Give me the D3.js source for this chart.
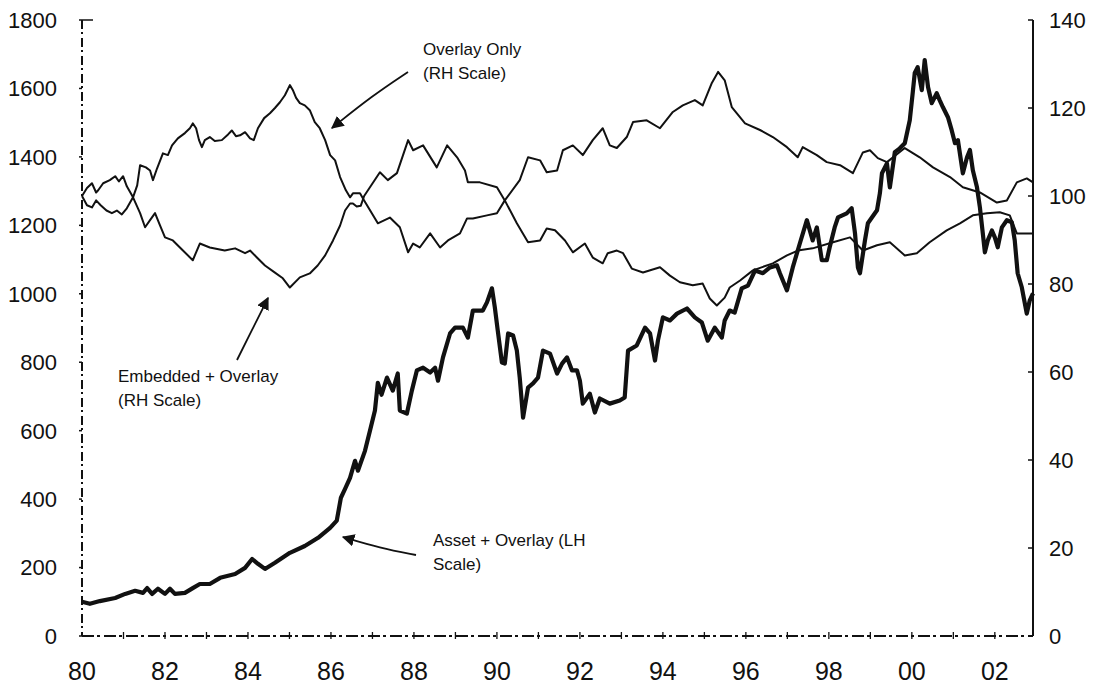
<!DOCTYPE html>
<html>
<head>
<meta charset="utf-8">
<script src="https://cdn.jsdelivr.net/npm/d3@7"></script>
<style>
  body { margin: 0; background: #fff; }
  svg text { font-family: "Liberation Sans", Arial, sans-serif; fill: #111; }
</style>
</head>
<body>
<div id="chart"></div>
<script>
'use strict';

// Overlay Only (RH scale)
var overlayYears = [1980.00,1980.12,1980.24,1980.34,1980.39,1980.51,1980.67,1980.80,1980.89,1980.99,1981.08,1981.23,1981.33,1981.40,1981.54,1981.64,1981.71,1981.81,1981.95,1982.07,1982.17,1982.31,1982.48,1982.60,1982.67,1982.75,1982.82,1982.89,1982.96,1983.08,1983.20,1983.37,1983.52,1983.61,1983.71,1983.81,1983.93,1984.05,1984.14,1984.24,1984.39,1984.53,1984.65,1984.77,1984.89,1985.01,1985.08,1985.16,1985.25,1985.37,1985.49,1985.61,1985.73,1985.86,1985.98,1986.10,1986.22,1986.36,1986.46,1986.53,1986.70,1986.80,1987.13,1987.42,1987.66,1987.86,1987.98,1988.14,1988.39,1988.63,1988.82,1989.11,1989.28,1989.42,1989.76,1990.00,1990.19,1990.55,1990.75,1991.04,1991.20,1991.45,1991.59,1991.83,1992.07,1992.31,1992.55,1992.72,1992.89,1993.13,1993.28,1993.61,1993.93,1994.24,1994.48,1994.77,1994.96,1995.18,1995.33,1995.49,1995.66,1995.98,1996.34,1996.65,1996.99,1997.25,1997.37,1997.71,1997.95,1998.27,1998.58,1998.82,1998.99,1999.18,1999.40,1999.83,2000.19,2000.51,2000.92,2001.23,2001.64,2002.05,2002.29,2002.53,2002.77,2002.92]
var overlayValues = [100.0,101.8,102.9,100.8,101.3,102.9,103.6,104.5,103.3,104.5,102.2,99.7,102.4,107.0,106.5,105.8,103.6,106.3,109.7,109.3,111.5,113.1,114.3,115.4,116.5,115.4,112.7,111.1,112.7,113.4,112.5,112.7,114.0,114.9,113.6,113.8,114.5,113.1,112.7,115.4,117.7,118.8,120.0,121.3,122.9,125.2,124.1,122.3,121.1,120.6,119.5,116.8,115.4,112.7,109.3,108.1,104.3,101.3,99.7,100.6,100.6,99.0,93.8,95.1,92.9,87.2,89.2,88.3,91.5,88.3,89.9,91.5,94.9,94.9,95.6,96.1,99.0,103.6,108.8,108.1,105.4,105.8,110.4,111.5,109.3,112.7,115.4,111.5,110.9,113.4,116.8,117.2,115.4,119.1,120.6,121.8,120.6,125.7,128.2,126.3,120.2,116.5,115.0,113.4,111.1,108.8,111.1,109.3,107.7,107.0,105.2,109.9,110.4,108.6,107.7,110.9,108.8,106.5,104.3,102.0,100.8,98.5,99.0,103.1,104.0,103.1]

// Embedded + Overlay (RH scale)
var embeddedYears = [1980.00,1980.12,1980.24,1980.34,1980.45,1980.59,1980.72,1980.84,1980.96,1981.08,1981.23,1981.40,1981.52,1981.64,1981.76,1981.88,1982.00,1982.19,1982.36,1982.67,1982.84,1983.08,1983.44,1983.69,1983.93,1984.05,1984.24,1984.41,1984.65,1984.84,1985.01,1985.25,1985.49,1985.68,1985.86,1986.05,1986.22,1986.34,1986.46,1986.53,1986.62,1986.72,1986.80,1987.18,1987.37,1987.59,1987.86,1987.98,1988.22,1988.55,1988.80,1989.04,1989.23,1989.30,1989.59,1990.00,1990.19,1990.48,1990.75,1991.04,1991.20,1991.40,1991.64,1991.83,1992.12,1992.31,1992.55,1992.67,1992.89,1993.04,1993.25,1993.52,1993.93,1994.17,1994.41,1994.72,1994.96,1995.13,1995.30,1995.49,1995.61,1995.86,1996.17,1996.65,1996.99,1997.25,1997.61,1998.10,1998.51,1998.82,1999.16,1999.47,1999.83,2000.12,2000.43,2000.84,2001.16,2001.47,2001.81,2002.12,2002.36,2002.53,2002.92]
var embeddedValues = [100.0,97.9,97.4,99.0,97.9,96.7,96.1,96.7,95.8,97.2,99.7,96.1,92.9,94.5,96.1,93.3,90.6,89.9,88.3,85.4,89.2,88.3,87.6,88.1,87.0,87.6,85.8,84.2,82.6,81.3,79.2,81.5,82.4,84.2,86.5,89.9,93.3,96.7,98.3,98.3,97.6,97.8,100.0,105.4,103.6,105.2,112.7,110.4,111.5,106.5,111.5,108.8,105.8,103.1,103.1,102.0,99.0,93.8,89.5,89.9,92.6,92.2,89.9,87.2,89.2,86.0,84.7,87.0,87.6,87.0,83.5,82.6,83.8,81.9,80.4,79.7,80.1,76.7,75.1,76.9,79.2,80.8,83.1,84.7,86.5,87.6,88.1,89.5,90.6,87.6,88.8,89.5,86.5,87.0,89.5,92.2,93.8,95.6,96.1,96.3,95.6,91.5,91.5]

// Asset + Overlay (LH scale)
var assetYears = [1980.00,1980.19,1980.43,1980.80,1981.04,1981.28,1981.47,1981.57,1981.69,1981.83,1982.00,1982.12,1982.24,1982.48,1982.67,1982.84,1983.08,1983.33,1983.69,1983.93,1984.10,1984.24,1984.41,1984.65,1985.01,1985.37,1985.69,1985.98,1986.14,1986.24,1986.34,1986.46,1986.58,1986.65,1986.82,1986.94,1987.06,1987.13,1987.22,1987.35,1987.49,1987.61,1987.66,1987.83,1987.95,1988.07,1988.22,1988.39,1988.51,1988.58,1988.70,1988.87,1988.99,1989.18,1989.30,1989.42,1989.66,1989.76,1989.88,1989.95,1990.02,1990.12,1990.19,1990.27,1990.39,1990.48,1990.55,1990.63,1990.75,1990.87,1990.99,1991.11,1991.28,1991.45,1991.57,1991.69,1991.81,1991.93,1992.00,1992.07,1992.24,1992.36,1992.48,1992.72,1992.96,1993.08,1993.16,1993.37,1993.57,1993.69,1993.81,1993.88,1994.00,1994.17,1994.34,1994.58,1994.77,1994.94,1995.08,1995.25,1995.42,1995.49,1995.61,1995.73,1995.90,1996.05,1996.22,1996.41,1996.58,1996.75,1996.82,1996.99,1997.13,1997.30,1997.47,1997.61,1997.71,1997.83,1997.95,1998.02,1998.14,1998.22,1998.43,1998.55,1998.63,1998.70,1998.75,1998.87,1998.94,1999.16,1999.23,1999.28,1999.40,1999.47,1999.59,1999.71,1999.83,1999.95,2000.02,2000.07,2000.14,2000.24,2000.31,2000.39,2000.48,2000.60,2000.67,2000.75,2000.87,2000.96,2001.04,2001.11,2001.23,2001.33,2001.40,2001.47,2001.57,2001.64,2001.71,2001.76,2001.83,2001.93,2002.00,2002.07,2002.17,2002.29,2002.41,2002.48,2002.55,2002.65,2002.77,2002.84,2002.92]
var assetValues = [100,94,102,111,123,132,126,140,123,138,123,138,123,126,140,152,152,170,181,199,225,211,196,214,243,263,287,316,337,404,430,462,512,483,541,600,659,740,705,755,717,767,659,650,717,776,784,770,784,746,814,884,901,901,872,951,951,975,1016,960,893,799,796,884,878,834,755,638,726,738,755,834,825,767,796,814,776,776,746,679,708,653,694,679,688,697,834,849,901,884,805,863,931,922,942,957,931,916,863,901,872,922,951,945,1016,1024,1068,1060,1077,1083,1060,1010,1077,1147,1215,1156,1194,1098,1098,1136,1194,1223,1235,1250,1177,1077,1060,1156,1206,1244,1294,1352,1381,1311,1414,1425,1440,1507,1586,1645,1662,1595,1683,1604,1557,1586,1566,1545,1516,1478,1440,1449,1352,1399,1420,1361,1311,1253,1177,1121,1156,1185,1165,1136,1194,1215,1209,1156,1060,1019,942,980,1001]

// axes
var xTickYears = [1980,1982,1984,1986,1988,1990,1992,1994,1996,1998,2000,2002]
var xTickLabels = ['80','82','84','86','88','90','92','94','96','98','00','02']
var leftTicks = [0,200,400,600,800,1000,1200,1400,1600,1800]
var rightTicks = [0,20,40,60,80,100,120,140]

var width = 1101, height = 684
var margin = {top: 20, right: 68, bottom: 48, left: 82}

var svg = d3.select('#chart').append('svg')
    .attr('width', width)
    .attr('height', height)

var x = d3.scaleLinear().domain([1980, 2002.92]).range([margin.left, width - margin.right])
var yL = d3.scaleLinear().domain([0, 1800]).range([height - margin.bottom, margin.top])
var yR = d3.scaleLinear().domain([0, 140]).range([height - margin.bottom, margin.top])

var x0 = x.range()[0], x1 = x.range()[1], yb = yL.range()[0], yt = yL.range()[1]

svg.append('defs').append('marker')
    .attr('id', 'head')
    .attr('viewBox', '0 0 10 10')
    .attr('refX', 9).attr('refY', 5)
    .attr('markerWidth', 7).attr('markerHeight', 7)
    .attr('markerUnits', 'strokeWidth')
    .attr('orient', 'auto')
  .append('path')
    .attr('d', 'M0,0 L10,5 L0,10 z')
    .attr('fill', '#111')

// axis lines, left and bottom look broken in the scan
svg.append('line')
    .attr('x1', x0).attr('x2', x0).attr('y1', yt).attr('y2', yb)
    .attr('stroke', '#111').attr('stroke-width', 2)
    .attr('stroke-dasharray', '9,3,2,4')
svg.append('line')
    .attr('x1', x0).attr('x2', x1).attr('y1', yb).attr('y2', yb)
    .attr('stroke', '#111').attr('stroke-width', 2)
    .attr('stroke-dasharray', '12,3,3,4')
svg.append('line')
    .attr('x1', x1).attr('x2', x1).attr('y1', yt).attr('y2', yb)
    .attr('stroke', '#111').attr('stroke-width', 2)
svg.append('line')
    .attr('x1', x0).attr('x2', x0 + 11).attr('y1', yt).attr('y2', yt)
    .attr('stroke', '#111').attr('stroke-width', 1.5)

svg.append('g').selectAll('line').data(leftTicks).join('line')
    .attr('x1', x0 - 3).attr('x2', x0)
    .attr('y1', function(d){ return yL(d) }).attr('y2', function(d){ return yL(d) })
    .attr('stroke', '#111').attr('stroke-width', 1.5)
svg.append('g').selectAll('line').data(rightTicks).join('line')
    .attr('x1', x1 - 5).attr('x2', x1)
    .attr('y1', function(d){ return yR(d) }).attr('y2', function(d){ return yR(d) })
    .attr('stroke', '#111').attr('stroke-width', 1.5)
svg.append('g').selectAll('line').data(d3.range(1981, 2003)).join('line')
    .attr('x1', function(d){ return x(d) }).attr('x2', function(d){ return x(d) })
    .attr('y1', yb - 4).attr('y2', yb + 3)
    .attr('stroke', '#111').attr('stroke-width', 1.3)

svg.append('g').selectAll('text').data(leftTicks).join('text')
    .attr('x', 57)
    .attr('y', function(d){ return yL(d) })
    .attr('dy', '0.36em')
    .attr('text-anchor', 'end')
    .style('font-size', '22px')
    .text(function(d){ return d })

svg.append('g').selectAll('text').data(rightTicks).join('text')
    .attr('x', x1 + 16)
    .attr('y', function(d){ return yR(d) })
    .attr('dy', '0.36em')
    .style('font-size', '22px')
    .text(function(d){ return d })

svg.append('g').selectAll('text').data(xTickYears).join('text')
    .attr('x', function(d){ return x(d) })
    .attr('y', 680)
    .attr('text-anchor', 'middle')
    .style('font-size', '25px')
    .text(function(d, i){ return xTickLabels[i] })

// series
function series(years, values, scale) {
  return years.map(function(yr, i){ return [x(yr), scale(values[i])] })
}
var line = d3.line().curve(d3.curveLinear)

svg.append('path')
    .attr('d', line(series(overlayYears, overlayValues, yR)))
    .attr('fill', 'none').attr('stroke', '#111').attr('stroke-width', 2)
    .attr('stroke-linejoin', 'round')
svg.append('path')
    .attr('d', line(series(embeddedYears, embeddedValues, yR)))
    .attr('fill', 'none').attr('stroke', '#111').attr('stroke-width', 2)
    .attr('stroke-linejoin', 'round')
svg.append('path')
    .attr('d', line(series(assetYears, assetValues, yL)))
    .attr('fill', 'none').attr('stroke', '#111').attr('stroke-width', 4.2)
    .attr('stroke-linejoin', 'round')

// annotations
var notes = [
  {lines: ['Overlay Only', '(RH Scale)'], x: 423, y: 55},
  {lines: ['Embedded + Overlay', '(RH Scale)'], x: 118, y: 382},
  {lines: ['Asset + Overlay (LH', 'Scale)'], x: 433, y: 546}
]
notes.forEach(function(n){
  var t = svg.append('text').attr('x', n.x).attr('y', n.y).style('font-size', '17px')
  n.lines.forEach(function(s, i){
    t.append('tspan').attr('x', n.x).attr('dy', i ? 24 : 0).text(s)
  })
})

var arrows = [
  [[408, 72], [372, 96], [332, 128]],
  [[237, 360], [252, 330], [268, 298]],
  [[416, 555], [380, 548], [343, 537]]
]
arrows.forEach(function(a){
  svg.append('path')
      .attr('d', d3.line().curve(d3.curveBasis)(a))
      .attr('fill', 'none').attr('stroke', '#111').attr('stroke-width', 1.8)
      .attr('marker-end', 'url(#head)')
})
</script>
</body>
</html>
